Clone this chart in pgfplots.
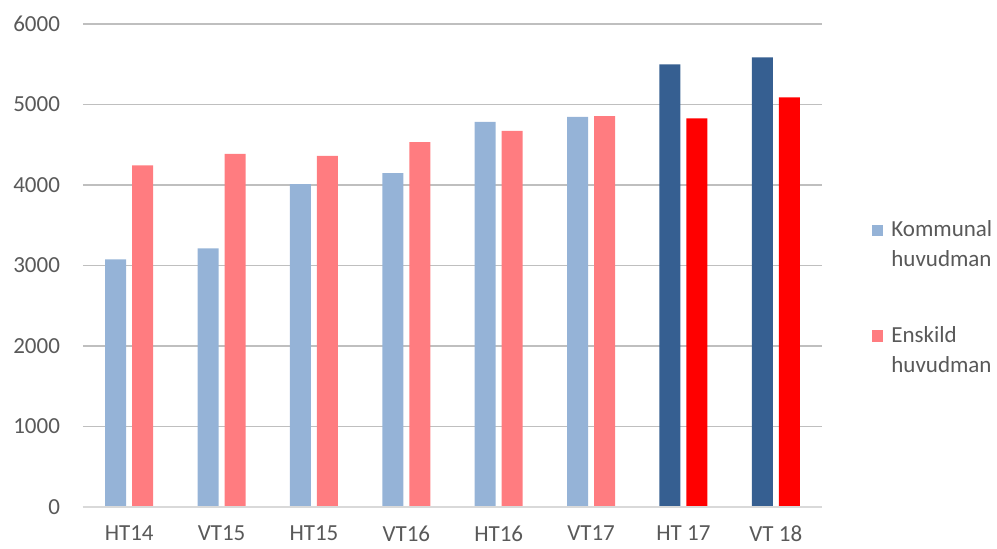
\documentclass[border=0pt]{standalone}
\usepackage{fontspec}
\setmainfont{Carlito}
\usepackage{pgfplots}
\pgfplotsset{compat=1.18}
\definecolor{lblue}{HTML}{95B3D7}
\definecolor{lred}{HTML}{FF7C80}
\definecolor{dblue}{HTML}{365F91}
\definecolor{dred}{HTML}{FF0000}
\definecolor{txt}{HTML}{595959}
\definecolor{grid}{HTML}{D9D9D9}
\begin{document}
\begin{tikzpicture}
\useasboundingbox (-41.5pt,-20.5pt) rectangle (457pt,253.5pt);
\begin{axis}[
  scale only axis,
  width=369.5pt, height=241.5pt,
  xmin=-0.5, xmax=7.5, ymin=0, ymax=6000,
  ytick={0,1000,...,6000},
  xtick={0,...,7},
  xticklabels={HT14,VT15,HT15,VT16,HT16,VT17,HT 17,VT 18},
  axis line style={draw=none},
  major tick length=0pt,
  tick style={draw=none},
  xmajorgrids=false,
  ymajorgrids, grid style={grid, line width=0.8pt},
  /pgf/number format/1000 sep={},
  /pgf/number format/assume math mode=true,
  ticklabel style={font=\fontsize{11.5}{14}\selectfont, text=txt},
  yticklabel style={xshift=-8pt},
  xticklabel style={yshift=-6pt},
  bar width=10.5pt,
  legend style={draw=none, at={(1.0674,0.602)}, anchor=north west,
    font=\fontsize{11.5}{15}\selectfont, text=txt,
    cells={anchor=west, align=left}, row sep=24.5pt, inner sep=0pt},
  legend image code/.code={\fill (0pt,4.7pt) rectangle (5.6pt,10.3pt); \path (7.6pt,0pt);},
]
\addplot[ybar, fill=lblue, draw=none, bar shift=-6.75pt] coordinates {(0,3075) (1,3213) (2,4012) (3,4149) (4,4785) (5,4845)};
\addlegendentry{Kommunal\\huvudman}
\addplot[ybar, fill=lred, draw=none, bar shift=6.75pt] coordinates {(0,4244) (1,4386) (2,4363) (3,4533) (4,4672) (5,4855)};
\addlegendentry{Enskild\\huvudman}
\addplot[ybar, fill=dblue, draw=none, bar shift=-6.75pt, forget plot] coordinates {(6,5500) (7,5585)};
\addplot[ybar, fill=dred, draw=none, bar shift=6.75pt, forget plot] coordinates {(6,4828) (7,5088)};
\draw[grid, line width=0.8pt] (axis cs:-0.5,0) -- (axis cs:7.5,0);
\end{axis}
\end{tikzpicture}
\end{document}
